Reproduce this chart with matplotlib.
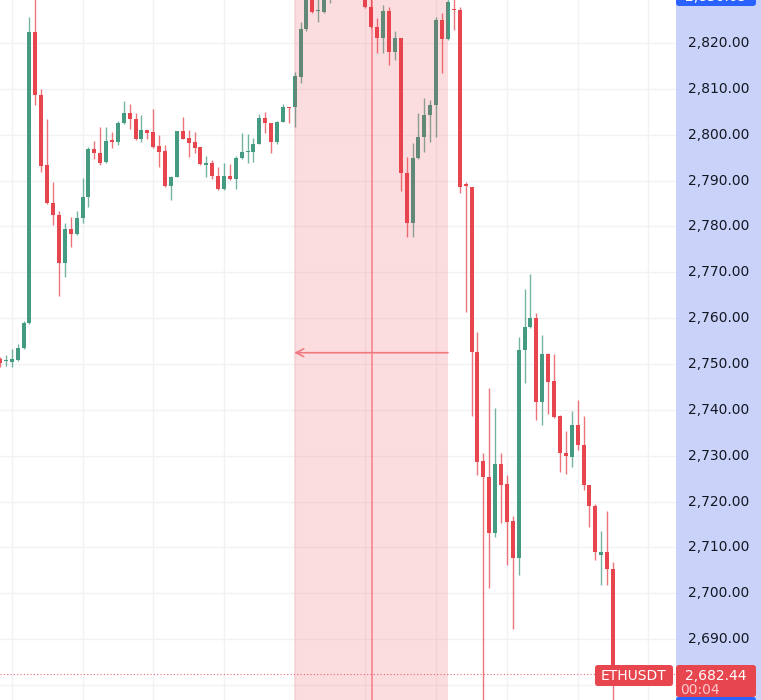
import matplotlib
matplotlib.use("Agg")
import matplotlib.pyplot as plt
from matplotlib.patches import FancyBboxPatch, Rectangle

# ---------------- data (ETHUSDT candles) ----------------
opens = [2751.1, 2750.6, 2750.4, 2750.9, 2753.5, 2758.9, 2822.4, 2808.7, 2793.4, 2785.1,
         2782.5, 2772.0, 2779.4, 2778.4, 2781.8, 2786.4, 2796.9, 2796.0, 2794.0, 2798.9,
         2798.4, 2802.6, 2804.7, 2803.4, 2799.1, 2801.0, 2800.6, 2797.5, 2796.5, 2788.8,
         2790.8, 2800.8, 2799.3, 2798.4, 2797.3, 2793.4, 2793.8, 2791.0, 2788.2, 2791.0,
         2790.3, 2794.9, 2796.2, 2796.2, 2798.0, 2803.6, 2802.6, 2798.4, 2802.8, 2806.0,
         2806.0, 2812.6, 2823.1, 2832.0, 2826.9, 2826.8, 2832.0, 2834.0, 2836.0, 2834.0,
         2837.0, 2834.0, 2831.0, 2827.9, 2823.5, 2821.1, 2827.0, 2818.0, 2821.1, 2791.7,
         2780.7, 2794.9, 2799.5, 2804.3, 2806.5, 2825.0, 2820.9, 2827.4, 2827.2, 2789.3,
         2788.6, 2752.6, 2728.8, 2725.4, 2713.1, 2728.2, 2723.8, 2715.8, 2707.7, 2753.1,
         2758.1, 2760.0, 2741.7, 2752.2, 2746.3, 2738.7, 2730.6, 2729.7, 2736.7, 2732.3,
         2723.6, 2719.0, 2708.3, 2709.0, 2705.3]
highs = [2751.5, 2752.0, 2753.3, 2754.4, 2759.4, 2825.7, 2830.5, 2810.0, 2803.4, 2789.7,
         2783.4, 2780.8, 2782.1, 2783.4, 2790.6, 2797.3, 2798.6, 2801.7, 2801.7, 2800.6,
         2803.0, 2807.4, 2806.7, 2804.8, 2804.3, 2801.1, 2805.6, 2799.9, 2797.8, 2790.9,
         2800.9, 2803.9, 2801.0, 2800.6, 2797.4, 2795.4, 2794.5, 2793.0, 2793.8, 2793.6,
         2795.4, 2800.4, 2800.2, 2799.3, 2804.5, 2805.0, 2802.6, 2802.9, 2806.7, 2806.1,
         2813.7, 2824.6, 2833.0, 2834.0, 2831.0, 2832.0, 2836.0, 2838.0, 2839.0, 2840.0,
         2839.0, 2836.0, 2832.5, 2829.5, 2825.5, 2828.3, 2827.9, 2822.6, 2821.2, 2795.1,
         2798.2, 2804.7, 2808.0, 2807.6, 2825.7, 2826.6, 2831.0, 2830.0, 2827.9, 2789.7,
         2788.7, 2757.0, 2730.6, 2744.8, 2740.4, 2730.6, 2725.8, 2716.8, 2755.9, 2766.4,
         2769.6, 2761.1, 2756.3, 2752.3, 2752.2, 2738.8, 2735.4, 2739.7, 2742.1, 2738.7,
         2723.7, 2719.5, 2713.6, 2717.9, 2706.8]
lows = [2749.3, 2749.6, 2749.3, 2750.6, 2753.3, 2758.7, 2806.5, 2791.9, 2784.9, 2780.3,
        2764.8, 2769.0, 2775.5, 2778.2, 2780.8, 2784.2, 2794.7, 2793.4, 2793.9, 2797.1,
        2797.8, 2802.4, 2801.2, 2798.9, 2798.4, 2799.1, 2797.2, 2793.0, 2788.7, 2785.8,
        2790.7, 2799.0, 2795.1, 2796.0, 2793.5, 2790.8, 2790.3, 2788.0, 2788.0, 2790.2,
        2788.2, 2794.8, 2793.8, 2794.1, 2797.9, 2800.4, 2796.0, 2798.0, 2802.7, 2802.6,
        2801.7, 2811.3, 2822.6, 2826.6, 2824.6, 2826.6, 2828.7, 2832.0, 2832.0, 2833.0,
        2832.0, 2830.0, 2827.6, 2823.3, 2817.8, 2817.8, 2815.2, 2816.3, 2787.7, 2777.7,
        2777.7, 2794.8, 2796.2, 2798.4, 2799.5, 2813.5, 2820.7, 2822.8, 2787.3, 2761.3,
        2738.7, 2725.8, 2672.0, 2701.1, 2712.3, 2715.3, 2706.2, 2692.2, 2704.0, 2745.9,
        2757.9, 2737.8, 2736.7, 2739.1, 2738.3, 2726.4, 2726.0, 2727.5, 2731.2, 2722.5,
        2714.4, 2707.2, 2701.8, 2701.8, 2675.0]
closes = [2750.2, 2750.7, 2751.1, 2753.5, 2758.9, 2822.4, 2808.7, 2793.2, 2785.1, 2782.5,
          2772.0, 2779.4, 2778.4, 2781.8, 2786.4, 2796.9, 2796.0, 2793.8, 2798.6, 2798.4,
          2802.6, 2804.7, 2803.4, 2799.1, 2801.0, 2800.4, 2797.3, 2796.2, 2788.8, 2790.8,
          2800.8, 2799.1, 2798.2, 2797.1, 2793.6, 2793.8, 2791.0, 2788.2, 2791.0, 2790.3,
          2794.9, 2796.2, 2796.5, 2798.0, 2803.6, 2802.6, 2798.4, 2802.8, 2806.0, 2805.9,
          2812.8, 2823.1, 2831.0, 2826.8, 2827.0, 2831.0, 2834.0, 2836.0, 2834.0, 2837.0,
          2834.0, 2832.0, 2827.9, 2823.5, 2821.1, 2827.0, 2818.0, 2821.1, 2791.7, 2780.7,
          2794.9, 2799.5, 2804.3, 2806.5, 2825.0, 2820.9, 2829.0, 2827.2, 2788.6, 2788.8,
          2752.6, 2728.6, 2725.4, 2713.1, 2728.2, 2723.6, 2715.5, 2707.7, 2753.1, 2758.1,
          2760.0, 2741.7, 2752.2, 2746.1, 2738.4, 2730.6, 2729.9, 2736.7, 2732.3, 2723.6,
          2719.0, 2709.0, 2709.0, 2705.3, 2682.44]

price_ticks = [2690, 2700, 2710, 2720, 2730, 2740, 2750, 2760, 2770, 2780, 2790, 2800, 2810, 2820]
symbol = "ETHUSDT"
last_price = 2682.44
countdown = "00:04"
crosshair_label = "2,830.05"
zone_start, zone_end = 49.9, 76.0      # shaded range (candle index)
crosshair_x = 63.1
arrow_price = 2752.45

# ---------------- styling ----------------
GREEN = "#459a82"
RED = "#e8464f"
BLUE = "#2962ff"
PANEL = "#c9d3fa"
GRID = "#f0f2f5"
TXT = "#131722"

W, H = 761, 700
fig = plt.figure(figsize=(W / 100, H / 100), dpi=100)
plot_w = 676
ax = fig.add_axes([0, 0, plot_w / W, 1])
pax = fig.add_axes([plot_w / W, 0, 1 - plot_w / W, 1])

ymin, ymax = 2676.71, 2829.38
ax.set_ylim(ymin, ymax)
ax.set_xlim(0.0, 114.69)
for a in (ax, pax):
    a.set_xticks([])
    a.set_yticks([])
    for s in a.spines.values():
        s.set_visible(False)

# grid
for p in range(2680, 2840, 10):
    ax.axhline(p, color=GRID, lw=1, zorder=0)
for gx in range(2, 115, 12):
    ax.axvline(gx, color=GRID, lw=1, zorder=0)

# candles
xs = list(range(len(opens)))
bw = 0.68
for i in xs:
    o, h, l, c = opens[i], highs[i], lows[i], closes[i]
    col = GREEN if c >= o else RED
    ax.vlines(i, l, h, color=col, lw=1.0, alpha=0.75, zorder=2)
    bottom = min(o, c)
    height = max(abs(c - o), 0.25)
    ax.bar(i, height, bottom=bottom, width=bw, color=col, lw=0, zorder=3)

# shaded zone, crosshair line and arrow
ax.axvspan(zone_start, zone_end, color="#f23645", alpha=0.17, lw=0, zorder=4)
ax.axvline(crosshair_x, color="#f23645", alpha=0.45, lw=1.4, zorder=5)
ax.annotate("", xy=(zone_start, arrow_price), xytext=(zone_end, arrow_price),
            arrowprops=dict(arrowstyle="->", color="#f07a80", lw=1.2,
                            mutation_scale=14, shrinkA=0, shrinkB=0), zorder=6)

# last price dotted line
ax.axhline(last_price, color=RED, lw=0.8, alpha=0.8, linestyle=(0, (1, 2)), zorder=1)

# price panel
pax.set_facecolor(PANEL)
pax.set_ylim(ymin, ymax)
pax.set_xlim(0, 1)
for p in price_ticks:
    pax.text(0.506, p, f"{p:,.2f}", ha="center", va="center", fontsize=10,
             color=TXT, family="DejaVu Sans")


def fx(px):
    return px / W


def fy(py):
    return 1 - py / H


def box(x0, y0, x1, y1, color, rad=3):
    patch = FancyBboxPatch((fx(x0), fy(y1)), fx(x1) - fx(x0), fy(y0) - fy(y1),
                           boxstyle=f"round,pad=0,rounding_size={rad / W}",
                           transform=fig.transFigure, facecolor=color,
                           edgecolor="none", zorder=10)
    fig.add_artist(patch)


# top crosshair label (clipped)
box(676, -14, 756, 6, BLUE)
fig.text(fx(716), fy(-3), crosshair_label, ha="center", va="center",
         fontsize=10, color="white", zorder=11)

# bottom labels
box(676, 697, 756, 710, BLUE)
box(595, 665, 673, 686, RED)
fig.text(fx(634), fy(675.5), symbol, ha="center", va="center",
         fontsize=10, color="white", zorder=11)
box(676, 665, 756, 697, RED)
fig.text(fx(716), fy(676), f"{last_price:,.2f}", ha="center", va="center",
         fontsize=10, color="white", zorder=11)
fig.text(fx(700), fy(690), countdown, ha="center", va="center",
         fontsize=10, color="white", alpha=0.7, zorder=11)

fig.savefig("out.png", dpi=100)
